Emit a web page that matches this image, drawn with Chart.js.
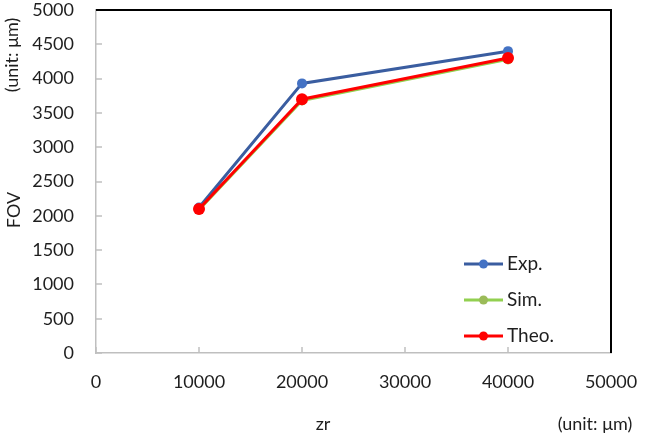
<!DOCTYPE html>
<html><head><meta charset="utf-8">
<script src="https://cdn.jsdelivr.net/npm/chart.js@4/dist/chart.umd.min.js"></script>
<style>html,body{margin:0;padding:0;background:#fff}#wrap{width:645px;height:435px}</style>
</head><body><div id="wrap"><canvas id="c" width="645" height="435"></canvas></div>
<script>
// ---- data ----
const zrValues = [10000, 20000, 40000];
const seriesNames = ['Exp.', 'Sim.', 'Theo.'];
const expFOV = [2120, 3930, 4400];
const simFOV = [2090, 3680, 4280];
const theoFOV = [2100, 3700, 4300];
const xTickValues = [0, 10000, 20000, 30000, 40000, 50000];
const yTickValues = [0, 500, 1000, 1500, 2000, 2500, 3000, 3500, 4000, 4500, 5000];
const yTitleText = 'FOV';
const yUnitText = '(unit: μm)';
const xTitleText = 'zr';
const xUnitText = '(unit: μm)';

const FONT = 'Lato';
const TXT = '#1e1e1e';
const AXIS = '#bfbfbf';

function pts(vals){ return zrValues.map((x,i)=>({x:x, y:vals[i]})); }

const styles = [
  {line:'#3a5da0', point:'#4472c4', r:5, order:2},
  {line:'#92d050', point:'#9bbb59', r:5, order:1},
  {line:'#ff0000', point:'#ff0000', r:6, order:0}
];
const seriesData = [expFOV, simFOV, theoFOV];

const datasets = seriesData.map((v,i)=>({
  label: seriesNames[i],
  data: pts(v),
  order: styles[i].order,
  borderColor: styles[i].line,
  backgroundColor: styles[i].point,
  pointBackgroundColor: styles[i].point,
  pointBorderColor: styles[i].point,
  pointRadius: styles[i].r,
  pointBorderWidth: 0,
  borderWidth: 3,
  tension: 0,
  fill: false
}));

const decor = {
  id: 'decor',
  beforeDatasetsDraw(chart){
    const ctx = chart.ctx, a = chart.chartArea;
    const xs = chart.scales.x, ys = chart.scales.y;
    ctx.save();
    ctx.strokeStyle = AXIS; ctx.lineWidth = 1.5;
    xTickValues.forEach(v=>{
      const px = Math.round(xs.getPixelForValue(v));
      ctx.beginPath(); ctx.moveTo(px, a.bottom); ctx.lineTo(px, a.bottom-6); ctx.stroke();
    });
    yTickValues.forEach(v=>{
      const py = Math.round(ys.getPixelForValue(v));
      ctx.beginPath(); ctx.moveTo(a.left, py); ctx.lineTo(a.left+6, py); ctx.stroke();
    });
    // top and right border
    ctx.strokeStyle = '#000'; ctx.lineWidth = 2;
    ctx.beginPath(); ctx.moveTo(a.left, a.top); ctx.lineTo(a.right, a.top); ctx.lineTo(a.right, a.bottom); ctx.stroke();
    ctx.restore();
  },
  afterDraw(chart){
    const ctx = chart.ctx;
    ctx.save();
    ctx.fillStyle = TXT;
    ctx.font = '18px ' + FONT;
    ctx.textAlign = 'center'; ctx.textBaseline = 'middle';
    // rotated y titles
    ctx.save(); ctx.translate(14, 210); ctx.rotate(-Math.PI/2); ctx.fillText(yTitleText, 0, 0); ctx.restore();
    ctx.save(); ctx.translate(12, 55); ctx.rotate(-Math.PI/2); ctx.fillText(yUnitText, 0, 0); ctx.restore();
    ctx.fillText(xTitleText, 323, 424);
    ctx.fillText(xUnitText, 595, 424);
    // legend
    const rows = [264, 300, 336];
    seriesNames.forEach((name,i)=>{
      const ds = chart.data.datasets[i];
      const y = rows[i];
      ctx.strokeStyle = ds.borderColor; ctx.lineWidth = 3;
      ctx.beginPath(); ctx.moveTo(464, y); ctx.lineTo(503, y); ctx.stroke();
      ctx.fillStyle = ds.pointBackgroundColor;
      ctx.beginPath(); ctx.arc(483.5, y, 4.5, 0, Math.PI*2); ctx.fill();
      ctx.fillStyle = TXT; ctx.textAlign = 'left';
      ctx.font = '19px ' + FONT;
      ctx.fillText(name, 507, y);
    });
    ctx.restore();
  }
};

new Chart(document.getElementById('c'), {
  type: 'line',
  data: { datasets: datasets },
  plugins: [decor],
  options: {
    responsive: false,
    animation: false,
    layout: { padding: { top: 10, right: 34, left: 0, bottom: 0 } },
    plugins: { legend: { display: false }, tooltip: { enabled: false } },
    scales: {
      x: {
        type: 'linear', min: 0, max: 50000,
        afterBuildTicks(s){ s.ticks = xTickValues.map(v=>({value:v})); },
        afterFit(s){ s.height = 82; s.paddingLeft = 0; s.paddingRight = 0; },
        grid: { display: true, drawOnChartArea: false, drawTicks: false },
        border: { color: AXIS, width: 1.5 },
        ticks: { color: TXT, font: { family: FONT, size: 18 }, padding: 18, maxRotation: 0,
                 callback: v => String(v) }
      },
      y: {
        type: 'linear', min: 0, max: 5000,
        afterBuildTicks(s){ s.ticks = yTickValues.map(v=>({value:v})); },
        afterFit(s){ s.width = 96; s.paddingTop = 0; s.paddingBottom = 0; },
        grid: { display: true, drawOnChartArea: false, drawTicks: false },
        border: { color: AXIS, width: 1.5 },
        ticks: { color: TXT, font: { family: FONT, size: 18 }, padding: 22,
                 callback: v => String(v) }
      }
    }
  }
});
</script></body></html>
